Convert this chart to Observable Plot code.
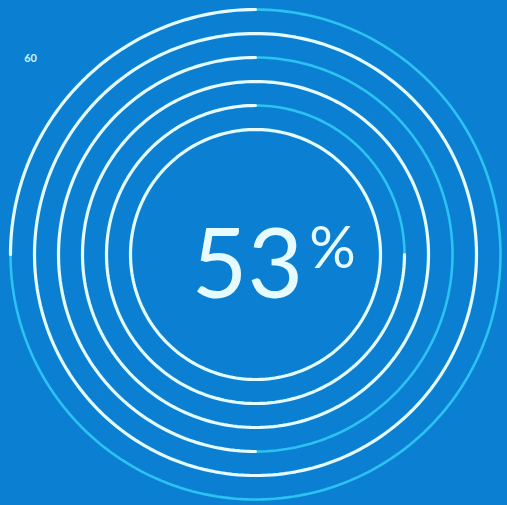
<!DOCTYPE html>
<html><head><meta charset="utf-8">
<script src="https://cdn.jsdelivr.net/npm/d3@7"></script>
<script src="https://cdn.jsdelivr.net/npm/@observablehq/plot@0.6"></script>
<style>html,body{margin:0;padding:0;background:#0b80d3;overflow:hidden}</style>
</head><body><div id="chart"></div>
<script>
// Data (outer ring first)
const rings = ["Ring 1", "Ring 2", "Ring 3", "Ring 4", "Ring 5", "Ring 6"];
const ringValues = [25, 100, 50, 100, 75, 100]; // percent of ring filled
const headlineValue = [53];
const sideLabels = ["60"];

// geometry helpers
const R0 = 245, step = 24;
const arcs = [];
rings.forEach((name, i) => {
  const r = R0 - i * step;
  const v = ringValues[i];
  const a0 = 90, a1 = 90 + 360 * v / 100;
  const seg = (start, end, part) => {
    const n = Math.max(2, Math.ceil(Math.abs(end - start) / 1.5));
    for (let k = 0; k <= n; k++) {
      const t = (start + (end - start) * k / n) * Math.PI / 180;
      arcs.push({ring: name, part, key: name + "-" + part, x: r * Math.cos(t), y: r * Math.sin(t)});
    }
  };
  seg(a0, a1, "done");
  if (v < 100) seg(a1, 450, "rest");
});

const chart = Plot.plot({
  width: 507,
  height: 505,
  margin: 0,
  x: {domain: [-255, 252], axis: null},
  y: {domain: [-251, 254], axis: null},
  style: {background: "#0b80d3"},
  marks: [
    Plot.line(arcs.filter(d => d.part === "rest"), {x: "x", y: "y", z: "key", stroke: "#2cc2f2", strokeWidth: 2.6, curve: "linear"}),
    Plot.line(arcs.filter(d => d.part === "done"), {x: "x", y: "y", z: "key", stroke: "#e4fbff", strokeWidth: 3.2, curve: "linear"}),
    Plot.text(headlineValue, {x: () => -8, y: () => -43, text: d => String(d), lineAnchor: "bottom", textAnchor: "middle", fontFamily: "Lato", fontWeight: 400, fontSize: 96, fill: "#e6fbff"}),
    Plot.text(headlineValue, {x: () => 77, y: () => -13, text: () => "%", lineAnchor: "bottom", textAnchor: "middle", fontFamily: "Lato", fontWeight: 400, fontSize: 58, fill: "#e6fbff"}),
    Plot.text(sideLabels, {x: () => -225, y: () => 196, text: d => d, textAnchor: "middle", fontFamily: "Lato", fontWeight: 700, fontSize: 11, fill: "#c8f6ff"})
  ]
});
document.getElementById("chart").appendChild(chart);
</script>
</body></html>
